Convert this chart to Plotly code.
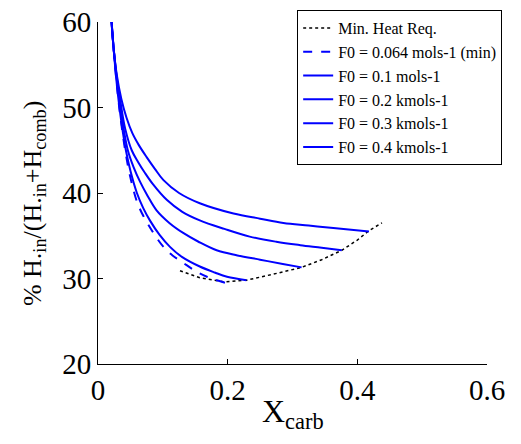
import plotly.graph_objects as go

# Data
min_x = [0.1265, 0.157, 0.196, 0.229, 0.270, 0.314, 0.345, 0.376, 0.400, 0.418, 0.438]
min_y = [30.9, 30.1, 29.6, 29.8, 30.5, 31.3, 32.2, 33.3, 34.5, 35.6, 36.5]

f064_x = [0.020, 0.024, 0.028, 0.032, 0.037, 0.043, 0.050, 0.060, 0.070, 0.080, 0.090, 0.101, 0.115, 0.132, 0.150, 0.168, 0.196]
f064_y = [61.0, 57.0, 53.5, 50.5, 47.5, 44.5, 41.8, 39.0, 37.3, 36.0, 34.8, 33.7, 32.7, 31.8, 30.9, 30.2, 29.5]

f01_x = [0.020, 0.024, 0.028, 0.032, 0.037, 0.043, 0.050, 0.060, 0.070, 0.080, 0.095, 0.111, 0.130, 0.157, 0.180, 0.199, 0.229]
f01_y = [61.0, 57.0, 53.5, 50.7, 47.8, 45.0, 42.6, 40.0, 38.2, 36.8, 35.1, 33.7, 32.5, 31.4, 30.7, 30.2, 29.8]

f02_x = [0.020, 0.024, 0.029, 0.034, 0.040, 0.046, 0.055, 0.065, 0.077, 0.090, 0.110, 0.132, 0.155, 0.183, 0.215, 0.250, 0.285, 0.314]
f02_y = [61.0, 57.0, 53.3, 50.3, 47.3, 45.0, 43.0, 41.3, 39.6, 38.0, 36.5, 35.3, 34.3, 33.3, 32.7, 32.2, 31.7, 31.3]

f03_x = [0.020, 0.024, 0.029, 0.035, 0.042, 0.052, 0.062, 0.072, 0.085, 0.106, 0.130, 0.157, 0.195, 0.234, 0.275, 0.312, 0.345, 0.376]
f03_y = [61.0, 57.0, 53.5, 50.5, 47.5, 45.0, 43.6, 42.4, 41.0, 39.2, 37.8, 36.8, 35.8, 34.9, 34.3, 33.9, 33.6, 33.3]

f04_x = [0.020, 0.024, 0.029, 0.036, 0.044, 0.053, 0.063, 0.075, 0.088, 0.101, 0.125, 0.157, 0.209, 0.250, 0.286, 0.325, 0.363, 0.418]
f04_y = [61.0, 57.0, 53.8, 51.0, 48.8, 47.0, 45.6, 44.2, 42.8, 41.5, 40.0, 38.8, 37.6, 37.0, 36.5, 36.2, 35.9, 35.5]

x_ticks = [0, 0.2, 0.4, 0.6]
x_ticktext = ["0", "0.2", "0.4", "0.6"]
y_ticks = [20, 30, 40, 50, 60]
y_ticktext = ["20", "30", "40", "50", "60"]

SERIF = "Liberation Serif, Times New Roman, serif"
BLUE = "#0000FF"

fig = go.Figure()
fig.add_trace(go.Scatter(x=min_x, y=min_y, mode="lines", name="Min. Heat Req.",
                         line=dict(color="black", width=1.5, dash="dot")))
fig.add_trace(go.Scatter(x=f064_x, y=f064_y, mode="lines", name="F0 = 0.064 mols-1 (min)",
                         line=dict(color=BLUE, width=2, dash="dash", shape="spline")))
fig.add_trace(go.Scatter(x=f01_x, y=f01_y, mode="lines", name="F0 = 0.1 mols-1",
                         line=dict(color=BLUE, width=2, shape="spline")))
fig.add_trace(go.Scatter(x=f02_x, y=f02_y, mode="lines", name="F0 = 0.2 kmols-1",
                         line=dict(color=BLUE, width=2, shape="spline")))
fig.add_trace(go.Scatter(x=f03_x, y=f03_y, mode="lines", name="F0 = 0.3 kmols-1",
                         line=dict(color=BLUE, width=2, shape="spline")))
fig.add_trace(go.Scatter(x=f04_x, y=f04_y, mode="lines", name="F0 = 0.4 kmols-1",
                         line=dict(color=BLUE, width=2, shape="spline")))

fig.update_layout(
    width=521, height=444,
    margin=dict(l=98, r=34, t=22, b=80, autoexpand=False),
    paper_bgcolor="white", plot_bgcolor="white",
    font=dict(family=SERIF, color="black"),
    xaxis=dict(range=[0, 0.6], tickvals=x_ticks, ticktext=x_ticktext,
               showline=True, linecolor="black", linewidth=1, mirror=False,
               ticks="inside", ticklen=5, tickcolor="black", showgrid=False,
               zeroline=False, tickfont=dict(size=29, family=SERIF)),
    yaxis=dict(range=[20, 60], tickvals=y_ticks, ticktext=y_ticktext,
               showline=True, linecolor="black", linewidth=1, mirror=False,
               ticks="inside", ticklen=5, tickcolor="black", showgrid=False,
               zeroline=False, tickfont=dict(size=29, family=SERIF)),
    legend=dict(x=0.512, y=1.035, xanchor="left", yanchor="top",
                bgcolor="white", bordercolor="black", borderwidth=1,
                font=dict(size=16, family=SERIF, color="black"),
                tracegroupgap=0),
    showlegend=True,
)

fig.add_annotation(text="X<sub>carb</sub>", xref="paper", yref="paper",
                   x=0.5, y=-0.08, xanchor="center", yanchor="top",
                   showarrow=False, font=dict(size=32, family=SERIF))
fig.add_annotation(text="% H.<sub>in</sub>/(H.<sub>in</sub>+H<sub>comb</sub>)",
                   xref="paper", yref="paper", x=-0.165, y=0.47,
                   xanchor="center", yanchor="middle", textangle=-90,
                   showarrow=False, font=dict(size=26, family=SERIF))

fig.write_html("out.html")
